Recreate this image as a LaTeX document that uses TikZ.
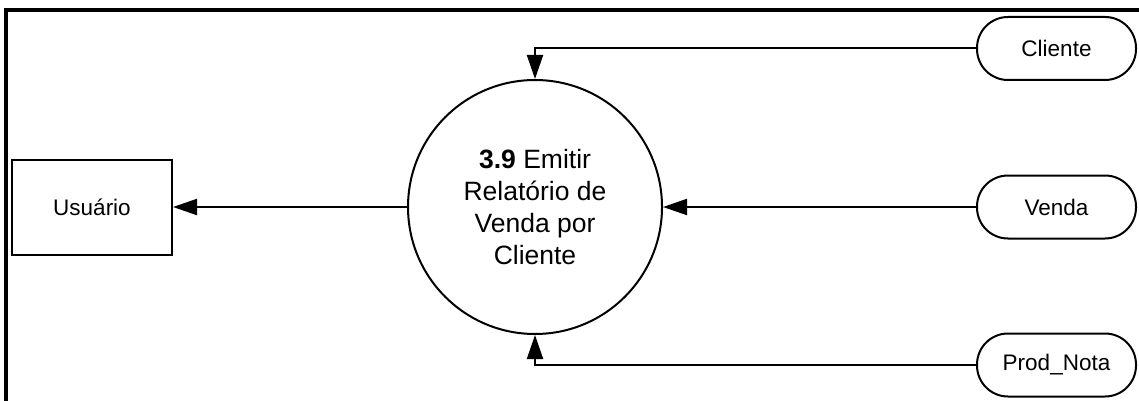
\documentclass[tikz,border=0pt]{standalone}
\usepackage{fontspec}
\setmainfont{Liberation Sans}
\usetikzlibrary{arrows.meta}

\begin{document}
\begin{tikzpicture}[x=1pt,y=-1pt,
    entidade/.style={draw, line width=2pt, minimum width=160pt, minimum height=95pt,
        font=\fontsize{22.5}{27}\selectfont},
    processo/.style={draw, circle, line width=2pt, minimum size=254pt, inner sep=0pt,
        align=center, font=\fontsize{26.5}{32}\selectfont},
    deposito/.style={draw, line width=2pt, rounded corners=31pt, minimum width=159pt,
        minimum height=63pt, font=\fontsize{22.5}{27}\selectfont},
    fluxo/.style={line width=2pt, -{Triangle[length=24pt,width=16pt]}}]
                \useasboundingbox (0,0) rectangle (1139,401);
                \draw[line width=4pt] (6,403) -- (6,10) -- (1141,10);
                \node[entidade] (usuario) at (92,207) {Usuário};
                \node[processo] (emitir) at (535,207) {\textbf{3.9} Emitir\\Relatório de\\Venda por\\Cliente};
                \node[deposito] (cliente) at (1056.5,48.5) {Cliente};
                \node[deposito] (venda) at (1056.5,207) {Venda};
                \node[deposito] (prodnota) at (1056.5,365) {Prod\_Nota};
                \draw[fluxo] (cliente.west) -| (emitir.north);
                \draw[fluxo] (venda.west) -- (emitir.east);
                \draw[fluxo] (prodnota.west) -| (emitir.south);
                \draw[fluxo] (emitir.west) -- (usuario.east);
            \end{tikzpicture}
\end{document}
